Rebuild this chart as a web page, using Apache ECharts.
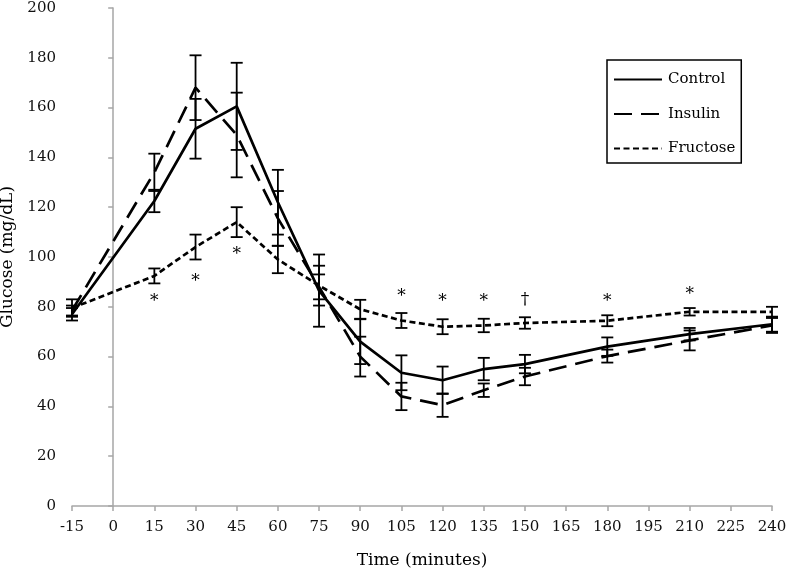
<!DOCTYPE html>
<html>
<head>
<meta charset="utf-8">
<script src="https://cdn.jsdelivr.net/npm/echarts@6/dist/echarts.min.js"></script>
<style>
  html, body { margin: 0; padding: 0; background: #fff; }
  #chart { width: 788px; height: 578px; }
</style>
</head>
<body>
<div id="chart"></div>
<script>
// sampling times (minutes)
const times = [-15, 15, 30, 45, 60, 75, 90, 105, 120, 135, 150, 180, 210, 240];

// glucose means and error bar half-lengths (mg/dL)
const control     = [77, 122.5, 151.5, 160.5, 122, 86.5, 66, 53.5, 50.5, 55, 57, 64, 69, 73];
const controlErr  = [2.5, 4.5, 12, 17.5, 13, 14.5, 9, 7, 5.5, 4.5, 3.7, 3.7, 2.5, 3];
const insulin     = [78.5, 134, 168, 149, 115.5, 88, 60, 44, 40.5, 46.5, 52, 60.2, 66.5, 72.5];
const insulinErr  = [2, 7.5, 13, 17, 11, 5, 8, 5.5, 4.7, 2.7, 3.5, 2.6, 4, 3];
const fructose    = [79.5, 92.4, 104, 114, 99, 88.5, 79, 74.5, 72, 72.5, 73.5, 74.4, 78, 78];
const fructoseErr = [3.5, 3, 5, 6, 5.5, 8, 3.8, 3, 3, 2.7, 2.3, 2.2, 1.5, 2];

// significance marks
const markTimes  = [15, 30, 45, 105, 120, 135, 150, 180, 210];
const markLevels = [82, 90, 101, 84, 82, 82, 83, 82, 85];
const markText   = ['*', '*', '*', '*', '*', '*', '†', '*', '*'];

const FONT = 'DejaVu Serif';

const pairs = (ys) => times.map((t, i) => [t, ys[i]]);
const errRows = (ys, es) => times.map((t, i) => [t, ys[i] - es[i], ys[i] + es[i]]);

// error bar drawing
function renderErr(params, api) {
  const x = api.value(0);
  const lo = api.coord([x, api.value(1)]);
  const hi = api.coord([x, api.value(2)]);
  const w = 6;
  const style = { stroke: '#000', lineWidth: 1.8 };
  return {
    type: 'group',
    children: [
      { type: 'line', shape: { x1: lo[0], y1: lo[1], x2: hi[0], y2: hi[1] }, style },
      { type: 'line', shape: { x1: hi[0] - w, y1: hi[1], x2: hi[0] + w, y2: hi[1] }, style },
      { type: 'line', shape: { x1: lo[0] - w, y1: lo[1], x2: lo[0] + w, y2: lo[1] }, style }
    ]
  };
}

function errSeries(ys, es) {
  return {
    type: 'custom',
    renderItem: renderErr,
    data: errRows(ys, es),
    encode: { x: 0, y: [1, 2] },
    silent: true,
    z: 1
  };
}

const chart = echarts.init(document.getElementById('chart'));

chart.setOption({
  animation: false,
  backgroundColor: '#fff',
  textStyle: { fontFamily: FONT },
  grid: { left: 72, right: 16, top: 8, bottom: 72, outerBoundsMode: 'none' },
  legend: {
    orient: 'vertical',
    left: 607,
    top: 60,
    data: ['Control', 'Insulin', 'Fructose'],
    itemWidth: 48,
    itemHeight: 14,
    itemGap: 19.5,
    padding: [12, 6, 7, 6],
    borderColor: '#000',
    borderWidth: 1.5,
    itemStyle: { opacity: 0 },
    textStyle: { fontFamily: FONT, fontSize: 15, color: '#000', padding: [0, 0, 0, 1] }
  },
  xAxis: {
    type: 'value',
    min: -15,
    max: 240,
    interval: 15,
    name: 'Time (minutes)',
    nameLocation: 'middle',
    nameGap: 46,
    nameTextStyle: { fontFamily: FONT, fontSize: 17, color: '#000' },
    axisLine: { lineStyle: { color: '#a6a6a6', width: 1.5 } },
    axisTick: { length: 5, lineStyle: { color: '#a6a6a6', width: 1.5 } },
    axisLabel: { fontFamily: FONT, fontSize: 15, color: '#111', margin: 14 },
    splitLine: { show: false }
  },
  yAxis: {
    type: 'value',
    min: 0,
    max: 200,
    interval: 20,
    name: 'Glucose (mg/dL)',
    nameLocation: 'middle',
    nameGap: 44,
    nameTextStyle: { fontFamily: FONT, fontSize: 17, color: '#000' },
    axisLine: { show: true, lineStyle: { color: '#a6a6a6', width: 1.5 } },
    axisTick: { show: true, length: 5, lineStyle: { color: '#a6a6a6', width: 1.5 } },
    axisLabel: { fontFamily: FONT, fontSize: 15, color: '#111', margin: 16 },
    splitLine: { show: false }
  },
  series: [
    errSeries(control, controlErr),
    errSeries(insulin, insulinErr),
    errSeries(fructose, fructoseErr),
    {
      name: 'Control', type: 'line', data: pairs(control),
      symbol: 'none', z: 3,
      lineStyle: { color: '#000', width: 2.7, type: 'solid' },
      itemStyle: { color: '#000' }
    },
    {
      name: 'Insulin', type: 'line', data: pairs(insulin),
      symbol: 'none', z: 3,
      lineStyle: { color: '#000', width: 2.7, type: [18, 9] },
      itemStyle: { color: '#000' }
    },
    {
      name: 'Fructose', type: 'line', data: pairs(fructose),
      symbol: 'none', z: 3,
      lineStyle: { color: '#000', width: 2.7, type: [6, 3.5] },
      itemStyle: { color: '#000' }
    },
    {
      type: 'custom',
      silent: true,
      z: 4,
      data: markTimes.map((t, i) => [t, markLevels[i]]),
      encode: { x: 0, y: 1 },
      renderItem: (params, api) => {
        const p = api.coord([api.value(0), api.value(1)]);
        return {
          type: 'text',
          style: {
            text: markText[params.dataIndex],
            x: p[0],
            y: p[1],
            align: 'center',
            verticalAlign: 'middle',
            font: '17px "' + FONT + '"',
            fill: '#000'
          }
        };
      }
    }
  ]
});
</script>
</body>
</html>
